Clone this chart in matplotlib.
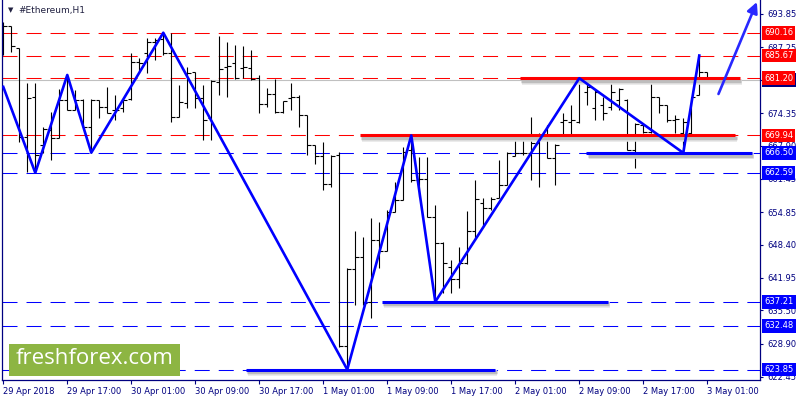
import matplotlib
matplotlib.use('Agg')
import numpy as np
import matplotlib.pyplot as plt
import matplotlib.patheffects as pe
from matplotlib import transforms
from matplotlib.patches import Rectangle

plt.rcParams['lines.scale_dashes'] = False
plt.rcParams['font.family'] = ['DejaVu Sans']

# hourly OHLC bars, 29 Apr 09:00 .. 3 May 01:00
opens = [690.70, 691.49, 687.10, 669.70, 677.57, 668.06, 671.02, 669.50, 676.92, 674.95,
         676.92, 671.67, 676.92, 675.60, 674.95, 675.35, 677.06, 684.46, 686.11, 688.40,
         688.87, 686.17, 673.63, 676.39, 682.37, 677.26, 673.38, 680.52, 683.48, 684.15,
         683.16, 683.22, 681.19, 676.13, 678.10, 674.50, 677.26, 677.57, 673.91, 668.06,
         665.90, 660.39, 666.09, 628.50, 643.59, 646.08, 637.22, 649.36, 647.26, 654.93,
         657.24, 667.08, 661.17, 661.31, 653.95, 648.71, 644.11, 641.63, 644.78, 651.19,
         656.59, 655.60, 657.57, 660.19, 665.90, 666.55, 666.55, 668.46, 669.70, 665.45,
         672.59, 672.65, 672.65, 678.55, 675.35, 675.94, 675.60, 676.92, 676.92, 667.08,
         672.00, 670.68, 677.57, 675.94, 672.98, 670.42, 670.42, 677.91, 682.37]
highs = [692.33, 691.49, 687.10, 680.21, 680.21, 671.67, 674.62, 679.03, 681.84, 678.89,
         677.06, 677.06, 676.92, 679.42, 677.91, 676.92, 686.11, 685.13, 689.07, 689.07,
         690.16, 690.17, 679.87, 683.36, 682.49, 679.87, 680.86, 689.52, 688.40, 687.75,
         687.55, 686.76, 681.84, 679.22, 681.00, 676.78, 680.21, 677.91, 673.97, 668.06,
         668.71, 666.09, 666.74, 643.79, 651.19, 649.89, 653.63, 652.96, 655.27, 660.84,
         667.73, 669.94, 665.76, 665.76, 656.25, 648.90, 645.43, 648.04, 655.07, 661.17,
         657.57, 657.89, 665.11, 666.74, 670.17, 670.17, 673.52, 670.37, 672.00, 668.26,
         674.30, 675.94, 681.20, 681.19, 678.89, 677.57, 681.19, 679.22, 677.06, 672.33,
         672.00, 681.19, 677.57, 675.94, 673.97, 673.32, 677.57, 685.67, 682.37]
lows = [685.78, 686.43, 668.71, 662.69, 662.59, 666.43, 665.11, 669.50, 674.95, 674.95,
        671.67, 666.55, 673.32, 674.30, 672.98, 674.62, 676.92, 682.18, 682.18, 684.80,
        685.78, 672.65, 673.63, 675.29, 675.29, 669.05, 669.05, 677.91, 677.45, 681.00,
        681.19, 680.86, 674.42, 675.60, 674.42, 674.42, 674.95, 671.55, 666.09, 664.26,
        659.20, 659.74, 628.36, 623.85, 636.57, 636.57, 633.95, 643.79, 647.26, 654.93,
        657.24, 660.84, 657.89, 653.95, 637.21, 638.87, 638.87, 639.85, 644.58, 649.36,
        651.98, 655.27, 657.57, 660.19, 665.90, 666.09, 661.17, 659.74, 665.45, 660.19,
        670.03, 670.03, 672.33, 675.94, 672.98, 672.98, 674.95, 674.95, 667.08, 663.48,
        670.37, 670.37, 674.30, 672.65, 670.37, 666.50, 669.05, 677.91, 680.72]
closes = [691.49, 687.55, 669.70, 677.26, 666.09, 671.15, 669.50, 676.92, 674.95, 676.92,
          671.67, 676.92, 675.60, 674.30, 674.95, 676.92, 684.46, 684.15, 688.40, 688.73,
          686.11, 673.52, 676.59, 682.30, 677.26, 672.98, 680.72, 682.96, 683.61, 681.19,
          683.36, 681.00, 676.13, 678.10, 674.50, 676.78, 677.45, 673.91, 668.06, 665.90,
          660.39, 665.96, 628.50, 643.59, 646.08, 637.02, 649.36, 647.26, 654.93, 657.24,
          666.74, 661.17, 661.31, 653.95, 648.71, 644.78, 641.63, 644.78, 651.19, 657.37,
          655.60, 657.37, 660.19, 666.55, 666.55, 666.55, 668.46, 669.70, 665.45, 668.12,
          672.98, 672.98, 680.21, 679.54, 678.55, 674.30, 678.55, 679.03, 667.08, 672.20,
          670.68, 677.57, 675.94, 672.98, 673.12, 672.59, 677.57, 682.37, 680.80]

time_labels = ['29 Apr 2018', '29 Apr 17:00', '30 Apr 01:00', '30 Apr 09:00',
               '30 Apr 17:00', '1 May 01:00', '1 May 09:00', '1 May 17:00',
               '2 May 01:00', '2 May 09:00', '2 May 17:00', '3 May 01:00']
price_ticks = [693.85, 687.25, 680.80, 674.35, 667.90, 661.45, 654.85,
               648.40, 641.95, 635.50, 628.90, 622.45]

red_levels = [690.16, 685.67, 681.20, 669.94]
blue_levels = [666.50, 662.59, 637.21, 632.48, 623.85]
bid = 680.80

# zigzag swing points (bar index, price)
zz_bars = [0, 4, 8, 11, 20, 43, 51, 54, 72, 85, 87]
zz_prices = [679.50, 662.59, 681.84, 666.55, 690.16, 623.85, 669.94, 637.21, 681.20, 666.50, 685.67]

# drawn support / resistance segments
seg_prices = [681.20, 669.94, 666.50, 637.21, 623.85]
seg_start = [64.6, 44.6, 72.9, 47.3, 30.3]
seg_end = [92.1, 91.5, 93.6, 75.6, 61.5]
seg_colors = ['#ff0000', '#ff0000', '#0000ff', '#0000ff', '#0000ff']

arrow_from = (89.4, 678.1)
arrow_to = (94.2, 696.2)

navy = '#000080'

fig = plt.figure(figsize=(8, 4), dpi=100)
ax = fig.add_axes([2/800, 20/400, 758/800, 380/400])
ax.set_xlim(-0.16, 94.59)
ax.set_ylim(621.8, 696.6)

ax.axhline(bid, color='#c0c0c0', lw=0.8, zorder=1)
for p in red_levels:
    ax.axhline(p, color='#ff0000', lw=0.75, dashes=(10.8, 6.5), zorder=1)
for p in blue_levels:
    ax.axhline(p, color='#0000ff', lw=0.75, dashes=(10.8, 6.5), zorder=1)

x = np.arange(len(opens))
ax.vlines(x, lows, highs, color='black', lw=0.8, zorder=2)
ax.hlines(opens, x - 0.42, x, color='black', lw=0.8, zorder=2)
ax.hlines(closes, x, x + 0.42, color='black', lw=0.8, zorder=2)

# soft drop shadow under the hand-drawn levels
shadow = [pe.Stroke(offset=(1.5, -2.5), linewidth=4, foreground='#e6e6e6'),
          pe.Stroke(offset=(1, -2), linewidth=2.5, foreground='#bdbdbd'),
          pe.Normal()]
for p, a, b, c in zip(seg_prices, seg_start, seg_end, seg_colors):
    ax.plot([a, b], [p, p], color=c, lw=2.2, solid_capstyle='butt',
            path_effects=shadow, zorder=3, clip_on=False)

ax.plot(zz_bars, zz_prices, color='#0000ff', lw=1.9, zorder=4)
ax.annotate('', xy=arrow_to, xytext=arrow_from, annotation_clip=False,
            arrowprops=dict(arrowstyle='-|>', color='#2828ff', lw=1.9,
                            mutation_scale=16, shrinkA=0, shrinkB=0), zorder=4)

ax.yaxis.tick_right()
ax.set_yticks(price_ticks)
ax.set_yticklabels([f'{p:.2f}' for p in price_ticks])
ax.set_xticks(np.arange(0, 89, 8))
ax.set_xticklabels(time_labels, ha='left')
ax.tick_params(axis='y', direction='out', length=2.5, width=0.8, colors=navy,
               labelsize=6, pad=2.5)
ax.tick_params(axis='x', direction='out', length=3, width=0.8, colors=navy,
               labelsize=6, pad=2)
ax.spines['top'].set_visible(False)
for s in ['left', 'right', 'bottom']:
    ax.spines[s].set_color(navy)
    ax.spines[s].set_linewidth(0.9)

# price labels in coloured boxes on the right scale
tr = transforms.blended_transform_factory(fig.transFigure, ax.transData)
box = dict(boxstyle='square,pad=0.28', ec='none')
ax.text(764/800, bid, f'{bid:.2f}', transform=tr, color='white', fontsize=6,
        va='center', ha='left', bbox=dict(box, fc='#000080'), zorder=5, clip_on=False)
for p in red_levels:
    ax.text(764/800, p, f'{p:.2f}', transform=tr, color='white', fontsize=6,
            va='center', ha='left', bbox=dict(box, fc='#ff0000'), zorder=6, clip_on=False)
for p in blue_levels:
    ax.text(764/800, p, f'{p:.2f}', transform=tr, color='white', fontsize=6,
            va='center', ha='left', bbox=dict(box, fc='#0000ff'), zorder=6, clip_on=False)

fig.text(8/800, 1 - 10/400, '\u25bc', fontsize=5, color='#202040', va='center')
fig.text(18/800, 1 - 10/400, '#Ethereum,H1', fontsize=6.5, color='#202040', va='center')

fig.patches.append(Rectangle((9/800, 24/400), 171/800, 32/400, transform=fig.transFigure,
                             fc='#8db543', ec='none', zorder=5))
fig.text(94.5/800, 1 - 359/400, 'freshforex.com', fontsize=16, color='white',
         family='Open Sans', ha='center', va='center', zorder=6)

fig.savefig('out.png', dpi=100)
